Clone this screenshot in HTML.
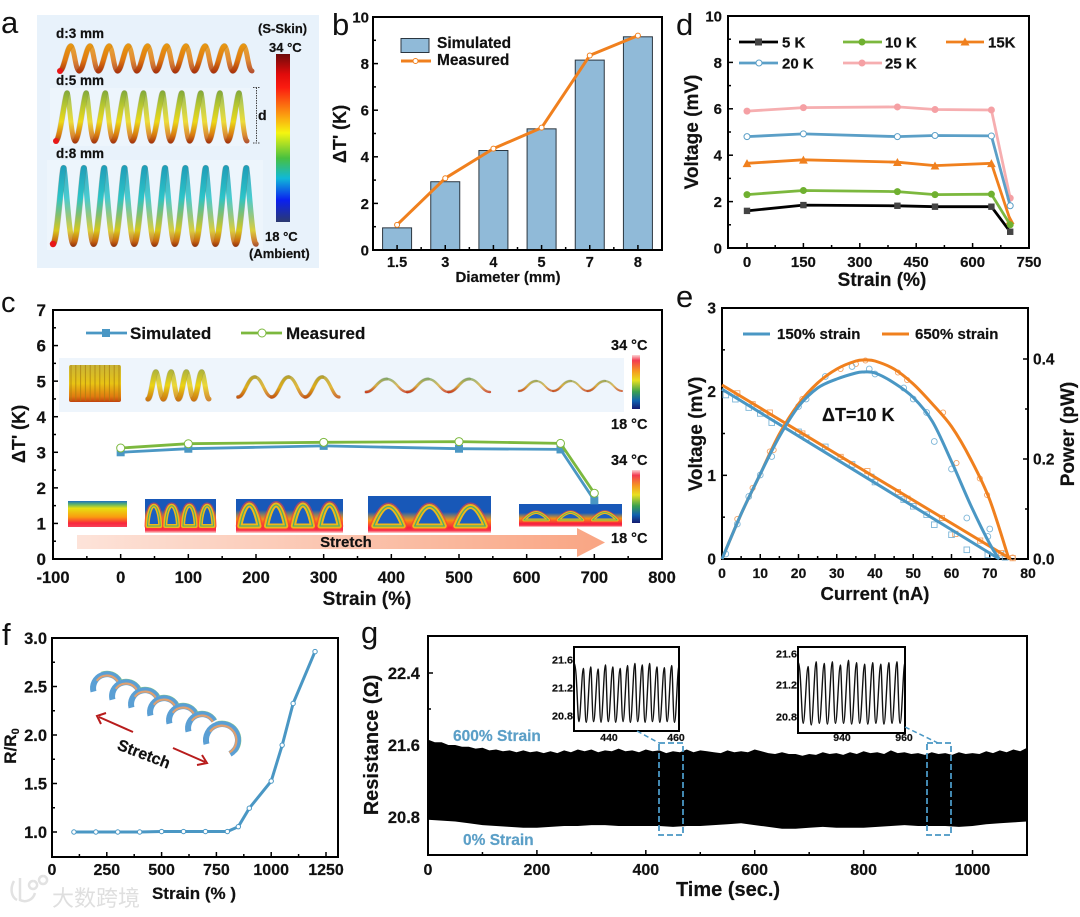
<!DOCTYPE html>
<html lang="en">
<head>
<meta charset="utf-8">
<title>Thermoelectric spring fibre figure</title>
<style>
html,body{margin:0;padding:0;background:#fff;}
svg{display:block;font-family:"Liberation Sans","Noto Sans CJK SC",sans-serif;font-weight:bold;fill:#111;filter:blur(.3px);}
svg text{stroke:#111;stroke-width:.2;}
.letter{font-weight:normal;font-size:31px;fill:#111;stroke-width:0;}
svg text.blue{fill:#5b9fc7;stroke:#5b9fc7;}
svg text.mark{fill:#dfdfdf;stroke:none;font-weight:normal;font-family:"Noto Sans CJK SC","WenQuanYi Zen Hei",sans-serif;}
</style>
</head>
<body>
<svg xmlns="http://www.w3.org/2000/svg" width="1080" height="917" viewBox="0 0 1080 917">
<defs>
  <linearGradient id="cbar" x1="0" y1="0" x2="0" y2="1">
    <stop offset="0" stop-color="#6e0b0b"/><stop offset=".12" stop-color="#e00b0b"/><stop offset=".2" stop-color="#fb1c10"/><stop offset=".36" stop-color="#fb9a10"/><stop offset=".47" stop-color="#f5f510"/><stop offset=".62" stop-color="#48c040"/><stop offset=".74" stop-color="#10b8d8"/><stop offset=".87" stop-color="#0a20f0"/><stop offset="1" stop-color="#2c3a70"/>
  </linearGradient>
  <linearGradient id="cbar2" x1="0" y1="0" x2="0" y2="1">
    <stop offset="0" stop-color="#fbd5d5"/><stop offset=".1" stop-color="#f33a50"/><stop offset=".3" stop-color="#f59a20"/><stop offset=".47" stop-color="#e8e020"/><stop offset=".68" stop-color="#3aa050"/><stop offset=".85" stop-color="#1060b0"/><stop offset="1" stop-color="#141a70"/>
  </linearGradient>
  <linearGradient id="coil3" gradientUnits="userSpaceOnUse" x1="0" y1="43" x2="0" y2="73">
    <stop offset="0" stop-color="#e89a10"/><stop offset=".55" stop-color="#e07a10"/><stop offset="1" stop-color="#a8300c"/>
  </linearGradient>
  <linearGradient id="coil5" gradientUnits="userSpaceOnUse" x1="0" y1="90" x2="0" y2="143">
    <stop offset="0" stop-color="#7fa83a"/><stop offset=".3" stop-color="#b8c830"/><stop offset=".6" stop-color="#ecd818"/><stop offset=".85" stop-color="#d87a10"/><stop offset="1" stop-color="#a3330d"/>
  </linearGradient>
  <linearGradient id="coil8" gradientUnits="userSpaceOnUse" x1="0" y1="165" x2="0" y2="247">
    <stop offset="0" stop-color="#1f9cb8"/><stop offset=".4" stop-color="#2cc4c8"/><stop offset=".62" stop-color="#86bf6a"/><stop offset=".8" stop-color="#d8c81c"/><stop offset=".93" stop-color="#c8680f"/><stop offset="1" stop-color="#8e2c0e"/>
  </linearGradient>
  <linearGradient id="coilC" x1="0" y1="0" x2="0" y2="1">
    <stop offset="0" stop-color="#c9b438"/><stop offset=".5" stop-color="#e8c414"/><stop offset=".85" stop-color="#e07a10"/><stop offset="1" stop-color="#c0420e"/>
  </linearGradient>
  <linearGradient id="coilC2" gradientUnits="userSpaceOnUse" x1="0" y1="369" x2="0" y2="402">
    <stop offset="0" stop-color="#a8b040"/><stop offset=".5" stop-color="#ecd414"/><stop offset="1" stop-color="#c86a10"/>
  </linearGradient>
  <linearGradient id="coilW" gradientUnits="userSpaceOnUse" x1="0" y1="375" x2="0" y2="399">
    <stop offset="0" stop-color="#b0a030"/><stop offset=".5" stop-color="#dfae18"/><stop offset="1" stop-color="#c24a10"/>
  </linearGradient>
  <linearGradient id="coilT" gradientUnits="userSpaceOnUse" x1="0" y1="378" x2="0" y2="393">
    <stop offset="0" stop-color="#7fa86a"/><stop offset=".5" stop-color="#d8b040"/><stop offset="1" stop-color="#c8341c"/>
  </linearGradient>
  <linearGradient id="arrowFade" x1="0" y1="0" x2="1" y2="0">
    <stop offset="0" stop-color="#fde3d9"/><stop offset="1" stop-color="#f9a583"/>
  </linearGradient>
  <linearGradient id="thermalFlat" x1="0" y1="0" x2="0" y2="1">
    <stop offset="0" stop-color="#1f6fc0"/><stop offset=".12" stop-color="#58b070"/><stop offset=".28" stop-color="#e8e010"/><stop offset=".62" stop-color="#fa9a10"/><stop offset=".85" stop-color="#f8263c"/><stop offset="1" stop-color="#f64058"/>
  </linearGradient>
  <linearGradient id="thermalBase" x1="0" y1="0" x2="0" y2="1">
    <stop offset="0" stop-color="#f8b010" stop-opacity="0"/><stop offset=".4" stop-color="#f89010"/><stop offset=".75" stop-color="#f8203c"/><stop offset=".88" stop-color="#f8304a"/><stop offset="1" stop-color="#fcd8d0"/>
  </linearGradient>
</defs>
<rect width="1080" height="917" fill="#ffffff"/>

<g>
  <text class="letter" x="1" y="33">a</text>
  <rect x="37" y="15" width="282" height="253" fill="#e8f2fb"/>
  <rect x="50" y="88" width="200" height="58" fill="#edf5fc"/>
  <rect x="47" y="160" width="216" height="90" fill="#edf5fc"/>
  <g id="coilsA"></g>
  <text x="56" y="38" font-size="13.500">d:3 mm</text>
  <text x="56" y="85" font-size="13.500">d:5 mm</text>
  <text x="56" y="158" font-size="13.500">d:8 mm</text>
  <text x="258" y="33" font-size="13">(S-Skin)</text>
  <text x="269" y="52" font-size="13">34 °C</text>
  <rect x="276" y="54" width="14" height="168" fill="url(#cbar)"/>
  <text x="265" y="241" font-size="13">18 °C</text>
  <text x="249" y="258" font-size="13">(Ambient)</text>
  <path d="M253 87.500H260M256.500 87.500V143M253 143H260" stroke="#444" stroke-width="1" stroke-dasharray="1.500 1" fill="none"/>
  <text x="258" y="120" font-size="14">d</text>
</g>

<g>
  <text class="letter" x="332" y="35">b</text>
  <g id="chartB"></g>
  <text transform="translate(346,134) rotate(-90)" text-anchor="middle" font-size="18">ΔT' (K)</text>
  <text x="508" y="282" text-anchor="middle" font-size="15">Diameter (mm)</text>
  <g>
    <rect x="401" y="38.500" width="28" height="14" fill="#90bad8" stroke="#2b3640" stroke-width="1"/>
    <text x="437" y="48" font-size="15.500">Simulated</text>
    <line x1="401" y1="61" x2="431" y2="61" stroke="#f0801e" stroke-width="3"/>
    <circle cx="415.500" cy="61" r="2.500" fill="#fff" stroke="#f0801e"/>
    <text x="437" y="65" font-size="15.500">Measured</text>
  </g>
</g>

<g>
  <text class="letter" x="1" y="312" style="font-size:29px">c</text>
  <rect x="59" y="358" width="565" height="54" fill="#eef5fc"/>
  <g id="coilsC"></g>
  <g id="thermalC"></g>
  <path d="M77 535H577V528L605 542.500L577 557V549H77Z" fill="url(#arrowFade)"/>
  <text x="346" y="547" text-anchor="middle" font-size="15">Stretch</text>
  <g id="chartC"></g>
  <text transform="translate(25,434) rotate(-90)" text-anchor="middle" font-size="18">ΔT' (K)</text>
  <text x="367" y="605" text-anchor="middle" font-size="19">Strain (%)</text>
  <g>
    <line x1="86" y1="333" x2="127" y2="333" stroke="#4a97c4" stroke-width="2.800"/>
    <rect x="102" y="329" width="8" height="8" fill="#4a97c4"/>
    <text x="130" y="339" font-size="17">Simulated</text>
    <line x1="241" y1="333" x2="282" y2="333" stroke="#7cb83e" stroke-width="2.800"/>
    <circle cx="262" cy="333" r="4" fill="#fff" stroke="#7cb83e"/>
    <text x="286" y="339" font-size="17">Measured</text>
  </g>
  <text x="611" y="350" font-size="14.500">34 °C</text>
  <rect x="632" y="355" width="8" height="54" fill="url(#cbar2)"/>
  <text x="611" y="429" font-size="14.500">18 °C</text>
  <text x="611" y="465" font-size="14.500">34 °C</text>
  <rect x="632" y="470" width="8" height="53" fill="url(#cbar2)"/>
  <text x="611" y="543" font-size="14.500">18 °C</text>
</g>

<g>
  <text class="letter" x="676" y="35">d</text>
  <g id="chartD"></g>
  <text transform="translate(698,132) rotate(-90)" text-anchor="middle" font-size="19">Voltage (mV)</text>
  <text x="882" y="286" text-anchor="middle" font-size="19">Strain (%)</text>
  <g>
    <line x1="739" y1="42" x2="778" y2="42" stroke="#000" stroke-width="2.800"/>
    <rect x="755" y="38.500" width="7" height="7" fill="#444"/>
    <text x="782" y="47.500" font-size="15">5 K</text>
    <line x1="843" y1="42" x2="882" y2="42" stroke="#7cb83e" stroke-width="2.800"/>
    <circle cx="862" cy="42" r="3.500" fill="#6fb030"/>
    <text x="885" y="47.500" font-size="15">10 K</text>
    <line x1="946" y1="42" x2="984" y2="42" stroke="#f0801e" stroke-width="2.800"/>
    <path d="M965 37.500L969.500 45.500H960.500Z" fill="#f0801e"/>
    <text x="988" y="47.500" font-size="15">15K</text>
    <line x1="739" y1="63" x2="778" y2="63" stroke="#5b9fc7" stroke-width="2.800"/>
    <circle cx="759" cy="63" r="3" fill="#fff" stroke="#5b9fc7"/>
    <text x="782" y="68.500" font-size="15">20 K</text>
    <line x1="843" y1="63" x2="882" y2="63" stroke="#f6aeb0" stroke-width="2.800"/>
    <circle cx="862" cy="63" r="3.500" fill="#f5a0a4"/>
    <text x="885" y="68.500" font-size="15">25 K</text>
  </g>
</g>

<g>
  <text class="letter" x="676" y="307">e</text>
  <g id="chartE"></g>
  <text transform="translate(702,434) rotate(-90)" text-anchor="middle" font-size="19">Voltage (mV)</text>
  <text transform="translate(1074,434) rotate(-90)" text-anchor="middle" font-size="19">Power (pW)</text>
  <text x="875" y="600" text-anchor="middle" font-size="18.500">Current (nA)</text>
  <text x="822" y="421" font-size="18">ΔT=10 K</text>
  <g>
    <line x1="743" y1="334" x2="770" y2="334" stroke="#4a97c4" stroke-width="3"/>
    <text x="777" y="339" font-size="15">150% strain</text>
    <line x1="882" y1="334" x2="909" y2="334" stroke="#f0801e" stroke-width="3"/>
    <text x="915" y="339" font-size="15">650% strain</text>
  </g>
</g>

<g>
  <text class="letter" x="2" y="645">f</text>
  <g id="chartF"></g>
  <g id="coilF"></g>
  <path d="M133 732L99 717M106 713L97 716L101 724" stroke="#b81c1c" stroke-width="2" fill="none"/>
  <path d="M173 748L205 762M197 765L207 763L202 755" stroke="#b81c1c" stroke-width="2" fill="none"/>
  <text transform="translate(142,759) rotate(21)" text-anchor="middle" font-size="16">Stretch</text>
  <text transform="translate(16,746) rotate(-90)" text-anchor="middle" font-size="17">R/R<tspan font-size="11" dy="3">0</tspan></text>
  <text x="194" y="899" text-anchor="middle" font-size="17">Strain (% )</text>
  <g>
    <path d="M14 881C10 888 11 897 17 900M20 878V900C26 903 33 900 35 893M33 881A4 4 0 1 0 33.100 881M43 876A4 4 0 1 0 43.100 876" stroke="#e2e2e2" stroke-width="2.500" fill="none"/>
    <text class="mark" x="52" y="906" font-size="22">大数跨境</text>
  </g>
</g>

<g>
  <text class="letter" x="361" y="643">g</text>
  <g id="chartG"></g>
  <path d="M637 731L659 743M905 727L938 743" stroke="#4a97c4" stroke-width="1.500" stroke-dasharray="5 3" fill="none"/>
  <rect x="659" y="743" width="24" height="92" fill="none" stroke="#4a97c4" stroke-width="1.800" stroke-dasharray="6 3"/>
  <rect x="927" y="743" width="24" height="92" fill="none" stroke="#4a97c4" stroke-width="1.800" stroke-dasharray="6 3"/>
  <text class="blue" x="453" y="741" font-size="15.500">600% Strain</text>
  <text class="blue" x="463" y="845" font-size="15.500">0% Strain</text>
  <text transform="translate(378,745) rotate(-90)" text-anchor="middle" font-size="20">Resistance (Ω)</text>
  <text x="728" y="896" text-anchor="middle" font-size="20">Time (sec.)</text>
</g>

<script>
// ---- Panel b data ----
const bCategories = ['1.5', '3', '4', '5', '7', '8'];
const bSimulated = [0.95, 2.93, 4.27, 5.2, 8.15, 9.15];
const bMeasured = [1.08, 3.08, 4.35, 5.25, 8.35, 9.2];
const bYTicks = [0, 2, 4, 6, 8, 10];
// ---- Panel c data ----
const cStrain = [0, 100, 300, 500, 650, 700];
const cSimulated = [3.0, 3.1, 3.18, 3.1, 3.08, 1.65];
const cMeasured = [3.12, 3.24, 3.28, 3.3, 3.25, 1.85];
const cXTicks = [-100, 0, 100, 200, 300, 400, 500, 600, 700, 800];
const cYTicks = [0, 1, 2, 3, 4, 5, 6, 7];
// ---- Panel d data ----
const dStrain = [0, 150, 400, 500, 650, 700];
const d5K = [1.6, 1.85, 1.82, 1.78, 1.78, 0.7];
const d10K = [2.3, 2.48, 2.43, 2.3, 2.32, 1.0];
const d15K = [3.65, 3.8, 3.7, 3.55, 3.65, 1.2];
const d20K = [4.8, 4.92, 4.8, 4.85, 4.83, 1.82];
const d25K = [5.9, 6.05, 6.08, 5.97, 5.95, 2.15];
const dXTicks = [0, 150, 300, 450, 600, 750];
const dYTicks = [0, 2, 4, 6, 8, 10];
// ---- Panel e data ----
const eVoltFitCurrentBlue = [0, 72.5];
const eVoltFitBlue = [2.03, 0];
const eVoltFitCurrentOrange = [0, 75.5];
const eVoltFitOrange = [2.08, 0];
const ePowerFitCurrentBlue = [0, 5, 10, 15, 20, 25, 30, 35, 37, 40, 45, 50, 55, 60, 65, 70, 72.5];
const ePowerFitBlue = [0, 0.09, 0.17, 0.245, 0.305, 0.342, 0.36, 0.372, 0.374, 0.372, 0.352, 0.323, 0.275, 0.195, 0.108, 0.03, 0];
const ePowerFitCurrentOrange = [0, 5, 10, 15, 20, 25, 30, 35, 37.5, 40, 45, 50, 55, 60, 65, 70, 75];
const ePowerFitOrange = [0, 0.09, 0.17, 0.25, 0.31, 0.352, 0.38, 0.396, 0.398, 0.396, 0.38, 0.35, 0.31, 0.265, 0.2, 0.118, 0];
const ePowerPtCurrentBlue = [1, 4, 7, 10, 13, 20, 22, 27, 34, 38.5, 40, 47.5, 50, 53.5, 55.5, 60, 64, 69.5, 70, 74];
const ePowerPtBlue = [0.01, 0.07, 0.125, 0.168, 0.205, 0.305, 0.32, 0.365, 0.385, 0.38, 0.37, 0.342, 0.32, 0.293, 0.235, 0.18, 0.082, 0.045, 0.06, 0.01];
const ePowerPtCurrentOrange = [4, 8, 12.5, 13.5, 21, 31, 35, 37.5, 46, 48.4, 57.8, 61.3, 67.4, 69.3, 76];
const ePowerPtOrange = [0.08, 0.142, 0.215, 0.218, 0.32, 0.38, 0.39, 0.397, 0.373, 0.358, 0.293, 0.192, 0.161, 0.128, 0.003];
const eVoltPtCurrentBlue = [1, 3.5, 7, 10, 13, 20, 22, 27, 34, 39, 40, 47.5, 50, 53.5, 55.5, 60, 64, 69.5, 74];
const eVoltPtBlue = [1.96, 1.91, 1.81, 1.74, 1.63, 1.52, 1.45, 1.34, 1.13, 0.98, 0.92, 0.71, 0.63, 0.53, 0.41, 0.29, 0.11, 0.05, 0.02];
const eVoltPtCurrentOrange = [4, 8, 12.5, 21, 31, 38, 46, 48.5, 57.5, 61, 67.5, 73, 76];
const eVoltPtOrange = [1.98, 1.85, 1.75, 1.5, 1.22, 1.05, 0.8, 0.72, 0.49, 0.3, 0.22, 0.07, 0.01];
const eXTicks = [0, 10, 20, 30, 40, 50, 60, 70, 80];
const eYTicks = [0, 1, 2, 3];
const eRightTicks = ['0.0', '0.2', '0.4'];
// ---- Panel f data ----
const fStrain = [100, 200, 300, 400, 500, 600, 700, 800, 850, 900, 1000, 1050, 1100, 1200];
const fRatio = [1, 1, 1, 1, 1.005, 1.005, 1.005, 1.005, 1.055, 1.245, 1.525, 1.895, 2.325, 2.86];
const fXTicks = [0, 250, 500, 750, 1000, 1250];
const fYTicks = ['1.0', '1.5', '2.0', '2.5', '3.0'];
// ---- Panel g data ----
const gUpperStep = 12.5;
const gLowerStep = 25;
const gUpper = [21.66, 21.63, 21.63, 21.6, 21.6, 21.58, 21.58, 21.56, 21.57, 21.54, 21.55, 21.53, 21.54, 21.52, 21.54, 21.52, 21.53, 21.51, 21.53, 21.51, 21.54, 21.52, 21.55, 21.53, 21.55, 21.52, 21.54, 21.53, 21.56, 21.53, 21.54, 21.52, 21.55, 21.53, 21.54, 21.51, 21.53, 21.52, 21.55, 21.52, 21.54, 21.53, 21.52, 21.51, 21.54, 21.52, 21.53, 21.52, 21.55, 21.53, 21.51, 21.5, 21.52, 21.5, 21.5, 21.48, 21.5, 21.49, 21.52, 21.5, 21.51, 21.49, 21.52, 21.5, 21.53, 21.51, 21.52, 21.5, 21.54, 21.51, 21.52, 21.5, 21.51, 21.49, 21.52, 21.5, 21.51, 21.49, 21.52, 21.5, 21.51, 21.5, 21.53, 21.51, 21.54, 21.52, 21.55, 21.53, 21.57];
const gLower = [20.77, 20.76, 20.75, 20.73, 20.71, 20.7, 20.69, 20.68, 20.68, 20.69, 20.7, 20.7, 20.71, 20.71, 20.7, 20.7, 20.7, 20.7, 20.69, 20.7, 20.7, 20.71, 20.72, 20.73, 20.71, 20.69, 20.67, 20.67, 20.68, 20.69, 20.68, 20.68, 20.68, 20.69, 20.7, 20.71, 20.7, 20.7, 20.7, 20.69, 20.7, 20.72, 20.73, 20.74, 20.75];
const gXTicks = [0, 200, 400, 600, 800, 1000];
const gYTicks = ['20.8', '21.6', '22.4'];
const gInset1Peaks = [21.56, 21.48, 21.5, 21.47, 21.53, 21.5, 21.48, 21.52, 21.55, 21.53, 21.55, 21.5, 21.49, 21.52];
const gInset1Troughs = [20.72, 20.71, 20.72, 20.71, 20.72, 20.71, 20.72, 20.71, 20.72, 20.71, 20.72, 20.71, 20.72, 20.71];
const gInset2Peaks = [21.5, 21.44, 21.5, 21.48, 21.5, 21.46, 21.52, 21.49, 21.47, 21.49, 21.47, 21.49, 21.5];
const gInset2Troughs = [20.72, 20.7, 20.72, 20.71, 20.72, 20.72, 20.71, 20.72, 20.71, 20.72, 20.71, 20.72, 20.72];
const gInset1YTicks = ['20.8', '21.2', '21.6'];
const gInset2YTicks = ['20.8', '21.2', '21.6'];
const gInset1XTicks = [440, 460];
const gInset2XTicks = [940, 960];

const NS = 'http://www.w3.org/2000/svg';
function make(tag, attrs, name, parent) {
  const el = document.createElementNS(NS, tag);
  for (const k in attrs) el.setAttribute(k, attrs[k]);
  
  
  parent.appendChild(el);
  return el;
}
function label(str, x, y, size, anchor, name, parent) {
  const el = make('text', {x: x, y: y, 'font-size': size, 'text-anchor': anchor}, name, parent);
  el.textContent = str;
  return el;
}
function linear(d0, d1, r0, r1) { return v => r0 + (v - d0) * (r1 - r0) / (d1 - d0); }
function toPath(xs, ys, sx, sy) {
  return xs.map((v, i) => (i ? 'L' : 'M') + sx(v).toFixed(1) + ' ' + sy(ys[i]).toFixed(1)).join('');
}
function toSmooth(xs, ys, sx, sy) {
  const p = xs.map((v, i) => [sx(v), sy(ys[i])]);
  let d = 'M' + p[0][0].toFixed(1) + ' ' + p[0][1].toFixed(1);
  for (let i = 0; i < p.length - 1; i++) {
    const a = p[Math.max(0, i - 1)], b = p[i], c = p[i + 1], e = p[Math.min(p.length - 1, i + 2)];
    d += 'C' + (b[0] + (c[0] - a[0]) / 6).toFixed(1) + ' ' + (b[1] + (c[1] - a[1]) / 6).toFixed(1) + ' ' +
      (c[0] - (e[0] - b[0]) / 6).toFixed(1) + ' ' + (c[1] - (e[1] - b[1]) / 6).toFixed(1) + ' ' + c[0].toFixed(1) + ' ' + c[1].toFixed(1);
  }
  return d;
}
function frame(box, name, parent) {
  make('rect', {x: box[0], y: box[1], width: box[2] - box[0], height: box[3] - box[1], fill: 'none', stroke: '#000', 'stroke-width': 2}, name, parent);
}
function tick(x1, y1, x2, y2, name, parent) {
  make('line', {x1: x1, y1: y1, x2: x2, y2: y2, stroke: '#000', 'stroke-width': 1.5}, name, parent);
}
function xAxis(box, ticks, sx, labelY, size, parent, labels) {
  ticks.forEach((t, i) => {
    tick(sx(t), box[3], sx(t), box[3] - 5, 'x-tick', parent);
    label(labels ? labels[i] : String(t), sx(t), labelY, size, 'middle', 'x-tick-label', parent);
    if (i < ticks.length - 1) {
      const m = (sx(t) + sx(ticks[i + 1])) / 2;
      tick(m, box[3], m, box[3] - 3, 'x-minor-tick', parent);
    }
  });
}
function yAxis(box, ticks, sy, labelX, size, parent) {
  ticks.forEach((t, i) => {
    const v = Number(t);
    tick(box[0], sy(v), box[0] + 5, sy(v), 'y-tick', parent);
    label(String(t), labelX, sy(v) + size * 0.36, size, 'end', 'y-tick-label', parent);
    if (i < ticks.length - 1) {
      const m = (sy(v) + sy(Number(ticks[i + 1]))) / 2;
      tick(box[0], m, box[0] + 3, m, 'y-minor-tick', parent);
    }
  });
}
function markers(kind, xs, ys, sx, sy, style, name, parent) {
  xs.forEach((v, i) => {
    const cx = sx(v), cy = sy(ys[i]), r = style.r;
    if (kind === 'circle') make('circle', {cx: cx, cy: cy, r: r, fill: style.fill, stroke: style.stroke || 'none', 'stroke-width': style.sw || 1}, name, parent);
    if (kind === 'square') make('rect', {x: cx - r, y: cy - r, width: 2 * r, height: 2 * r, fill: style.fill, stroke: style.stroke || 'none', 'stroke-width': style.sw || 1}, name, parent);
    if (kind === 'triangle') make('path', {d: 'M' + cx + ' ' + (cy - r * 1.1) + 'L' + (cx + r * 1.15) + ' ' + (cy + r) + 'L' + (cx - r * 1.15) + ' ' + (cy + r) + 'Z', fill: style.fill}, name, parent);
  });
}

// ---- Chart b ----
(function () {
  const g = document.getElementById('chartB');
  const box = [373, 17, 662, 250];
  const sy = linear(0, 10, 250, 17);
  const band = (box[2] - box[0]) / bCategories.length;
  const sx = i => box[0] + band * (i + 0.5);
  bSimulated.forEach((v, i) => {
    make('rect', {x: sx(i) - 14.5, y: sy(v), width: 29, height: 250 - sy(v), fill: '#90bad8', stroke: '#2b3640', 'stroke-width': 1}, 'bar-' + bCategories[i], g);
  });
  const idx = bCategories.map((c, i) => i);
  make('path', {d: toPath(idx, bMeasured, sx, sy), fill: 'none', stroke: '#f0801e', 'stroke-width': 3, 'stroke-linejoin': 'round'}, 'measured-line', g);
  markers('circle', idx, bMeasured, sx, sy, {r: 2.5, fill: '#fff', stroke: '#f0801e'}, 'measured-point', g);
  frame(box, 'plot-frame-b', g);
  xAxis(box, idx, sx, 267, 14.5, g, bCategories);
  yAxis(box, bYTicks, sy, 369, 15, g);
})();

// ---- Chart c ----
(function () {
  const g = document.getElementById('chartC');
  const box = [53, 310, 662, 559];
  const sx = linear(-100, 800, 53, 662);
  const sy = linear(0, 7, 559, 310);
  frame(box, 'plot-frame-c', g);
  xAxis(box, cXTicks, sx, 583, 16.5, g);
  yAxis(box, cYTicks, sy, 46, 17, g);
  make('path', {d: toPath(cStrain, cSimulated, sx, sy), fill: 'none', stroke: '#4a97c4', 'stroke-width': 2.8}, 'simulated-line', g);
  markers('square', cStrain, cSimulated, sx, sy, {r: 4, fill: '#4a97c4'}, 'simulated-point', g);
  make('path', {d: toPath(cStrain, cMeasured, sx, sy), fill: 'none', stroke: '#7cb83e', 'stroke-width': 2.8}, 'measured-line', g);
  markers('circle', cStrain, cMeasured, sx, sy, {r: 4, fill: '#fff', stroke: '#7cb83e'}, 'measured-point', g);
})();

// ---- Chart d ----
(function () {
  const g = document.getElementById('chartD');
  const box = [728, 16, 1029, 248];
  const sx = linear(0, 750, 747, 1029);
  const sy = linear(0, 10, 248, 16);
  frame(box, 'plot-frame-d', g);
  xAxis(box, dXTicks, sx, 267, 15, g);
  yAxis(box, dYTicks, sy, 722, 15, g);
  const line = (ys, color, kind, style, name) => {
    make('path', {d: toPath(dStrain, ys, sx, sy), fill: 'none', stroke: color, 'stroke-width': 2.8}, name + '-line', g);
    markers(kind, dStrain, ys, sx, sy, style, name + '-point', g);
  };
  line(d25K, '#f6aeb0', 'circle', {r: 3.5, fill: '#f5a0a4'}, 'series-25k');
  line(d20K, '#5b9fc7', 'circle', {r: 3, fill: '#fff', stroke: '#5b9fc7'}, 'series-20k');
  line(d15K, '#f0801e', 'triangle', {r: 3.8, fill: '#f0801e'}, 'series-15k');
  line(d5K, '#000', 'square', {r: 3.2, fill: '#444'}, 'series-5k');
  line(d10K, '#7cb83e', 'circle', {r: 3.5, fill: '#6fb030'}, 'series-10k');
})();

// ---- Chart e ----
(function () {
  const g = document.getElementById('chartE');
  const box = [722, 308, 1028, 559];
  const sx = linear(0, 80, 722, 1028);
  const sy = linear(0, 3, 559, 308);
  const sp = linear(0, 0.5, 559, 309);
  frame(box, 'plot-frame-e', g);
  xAxis(box, eXTicks, sx, 578, 14, g);
  yAxis(box, eYTicks, sy, 716, 15.5, g);
  eRightTicks.forEach((t, i) => {
    const v = Number(t);
    tick(box[2], sp(v), box[2] - 5, sp(v), 'right-tick', g);
    label(t, 1033, sp(v) + 5.5, 15.5, 'start', 'right-tick-label', g);
    if (i < eRightTicks.length - 1) {
      const m = (sp(v) + sp(Number(eRightTicks[i + 1]))) / 2;
      tick(box[2], m, box[2] - 3, m, 'right-minor-tick', g);
    }
  });
  markers('square', eVoltPtCurrentOrange, eVoltPtOrange, sx, sy, {r: 2.6, fill: 'none', stroke: '#f3a568', sw: 0.9}, 'voltage-point-650', g);
  markers('circle', ePowerPtCurrentOrange, ePowerPtOrange, sx, sp, {r: 2.6, fill: 'none', stroke: '#f3a568', sw: 0.9}, 'power-point-650', g);
  markers('square', eVoltPtCurrentBlue, eVoltPtBlue, sx, sy, {r: 2.8, fill: 'none', stroke: '#7db6d8', sw: 0.9}, 'voltage-point-150', g);
  markers('circle', ePowerPtCurrentBlue, ePowerPtBlue, sx, sp, {r: 2.9, fill: 'none', stroke: '#7db6d8', sw: 0.9}, 'power-point-150', g);
  make('path', {d: toPath(eVoltFitCurrentBlue, eVoltFitBlue, sx, sy), fill: 'none', stroke: '#4a97c4', 'stroke-width': 3}, 'voltage-fit-150', g);
  make('path', {d: toPath(eVoltFitCurrentOrange, eVoltFitOrange, sx, sy), fill: 'none', stroke: '#f0801e', 'stroke-width': 3}, 'voltage-fit-650', g);
  make('path', {d: toSmooth(ePowerFitCurrentOrange, ePowerFitOrange, sx, sp), fill: 'none', stroke: '#f0801e', 'stroke-width': 3}, 'power-fit-650', g);
  make('path', {d: toSmooth(ePowerFitCurrentBlue, ePowerFitBlue, sx, sp), fill: 'none', stroke: '#4a97c4', 'stroke-width': 3}, 'power-fit-150', g);
})();

// ---- Chart f ----
(function () {
  const g = document.getElementById('chartF');
  const box = [52, 638, 338, 857];
  const sx = linear(0, 1250, 52, 326);
  const sy = linear(1, 3, 832, 638);
  frame(box, 'plot-frame-f', g);
  xAxis(box, fXTicks, sx, 875, 16, g);
  yAxis(box, fYTicks, sy, 47, 16.5, g);
  make('path', {d: toPath(fStrain, fRatio, sx, sy), fill: 'none', stroke: '#4a97c4', 'stroke-width': 3}, 'resistance-line', g);
  markers('circle', fStrain, fRatio, sx, sy, {r: 2.2, fill: '#fff', stroke: '#4a97c4'}, 'resistance-point', g);
})();

// ---- Chart g ----
(function () {
  const g = document.getElementById('chartG');
  const box = [428, 636, 1027, 855];
  const sx = linear(0, 1100, 428, 1027);
  const sy = linear(20.8, 22.4, 817, 673);
  const upperTimes = gUpper.map((v, i) => i * gUpperStep);
  const lowerTimes = gLower.map((v, i) => i * gLowerStep);
  const top = toPath(upperTimes, gUpper, sx, sy);
  const bottom = toPath(lowerTimes.slice().reverse(), gLower.slice().reverse(), sx, sy).replace('M', 'L');
  make('path', {d: top + bottom + 'Z', fill: '#000'}, 'resistance-band', g);
  frame(box, 'plot-frame-g', g);
  xAxis(box, gXTicks, sx, 875, 16, g);
  yAxis(box, gYTicks, sy, 420, 16.5, g);

  const inset = (pos, peaks, troughs, yLabels, xLabels, yTickPx, xTickPx, name) => {
    const ig = make('g', {}, name, g);
    make('rect', {x: pos[0], y: pos[1], width: pos[2] - pos[0], height: pos[3] - pos[1], fill: '#fff'}, name + '-background', ig);
    const xs = linear(0, peaks.length, pos[0] + 2, pos[2]);
    const ys = linear(20.8, 21.6, yTickPx[0], yTickPx[2]);
    let d = 'M' + pos[0] + ' ' + ys(peaks[0]);
    peaks.forEach((p, i) => {
      const next = peaks[Math.min(i + 1, peaks.length - 1)];
      d += 'C' + (xs(i) + 1) + ' ' + ys(p) + ' ' + (xs(i + 0.2)) + ' ' + ys(troughs[i]) + ' ' + xs(i + 0.4) + ' ' + ys(troughs[i]);
      d += 'C' + xs(i + 0.6) + ' ' + ys(troughs[i]) + ' ' + (xs(i + 0.8)) + ' ' + ys(next) + ' ' + xs(i + 1) + ' ' + ys(next);
    });
    make('path', {d: d, fill: 'none', stroke: '#111', 'stroke-width': 1.4}, name + '-trace', ig);
    frame(pos, name + '-frame', ig);
    yLabels.forEach((t, i) => {
      const el = label(t, pos[0] - 1, yTickPx[i] + 3.5, 10.5, 'end', name + '-y-label', ig);
      el.setAttribute('textLength', '21');
      el.setAttribute('lengthAdjust', 'spacingAndGlyphs');
    });
    xLabels.forEach((t, i) => {
      label(String(t), xTickPx[i], 741, 10.5, 'middle', name + '-x-label', ig);
    });
  };
  inset([574, 647, 679, 731], gInset1Peaks, gInset1Troughs, gInset1YTicks, gInset1XTicks, [716, 688, 660], [609, 676], 'inset-440');
  inset([798, 647, 905, 733], gInset2Peaks, gInset2Troughs, gInset2YTicks, gInset2XTicks, [717, 685, 654], [842, 904], 'inset-940');
})();

// ---- Decorative coils ----
function coilPath(x0, x1, yTop, yBot, n, lean, tight) {
  const p = (x1 - x0) / n;
  let front = '', back = '';
  for (let i = 0; i < n; i++) {
    const a = x0 + i * p, b = a + p, c = a + p * lean;
    front += 'M' + a.toFixed(1) + ' ' + yBot + 'C' + (a + p * 0.2).toFixed(1) + ' ' + yBot + ' ' + (c - p * tight).toFixed(1) + ' ' + yTop + ' ' + c.toFixed(1) + ' ' + yTop;
    back += 'M' + c.toFixed(1) + ' ' + yTop + 'C' + (c + p * tight).toFixed(1) + ' ' + yTop + ' ' + (b - p * 0.2).toFixed(1) + ' ' + yBot + ' ' + b.toFixed(1) + ' ' + yBot;
  }
  return {front: front, back: back};
}
function drawCoil(parent, x0, x1, yTop, yBot, n, lean, w, grad, name, tight) {
  const c = coilPath(x0, x1, yTop, yBot, n, lean, tight === undefined ? 0.22 : tight);
  make('path', {d: c.back, fill: 'none', stroke: grad, 'stroke-width': w, 'stroke-linecap': 'round', opacity: 0.85}, name + '-back', parent);
  make('path', {d: c.front, fill: 'none', stroke: '#5a3a10', 'stroke-width': w + 0.8, 'stroke-linecap': 'round', opacity: 0.28}, name + '-edge', parent);
  make('path', {d: c.front, fill: 'none', stroke: grad, 'stroke-width': w, 'stroke-linecap': 'round'}, name + '-front', parent);
}
(function () {
  const g = document.getElementById('coilsA');
  drawCoil(g, 60, 252, 46, 71, 10, 0.56, 5, 'url(#coil3)', 'coil-3mm', 0.18);
  drawCoil(g, 56, 247, 93, 141, 10, 0.58, 5, 'url(#coil5)', 'coil-5mm', 0.1);
  drawCoil(g, 53, 256, 168, 244, 10, 0.52, 5.5, 'url(#coil8)', 'coil-8mm', 0.08);
  make('circle', {cx: 60, cy: 71, r: 3, fill: '#e81818'}, 'coil-3mm-end', g);
  make('circle', {cx: 56, cy: 141, r: 3, fill: '#e81818'}, 'coil-5mm-end', g);
  make('circle', {cx: 53, cy: 244, r: 3.2, fill: '#e81818'}, 'coil-8mm-end', g);

  const c = document.getElementById('coilsC');
  make('rect', {x: 69, y: 365, width: 52, height: 37, rx: 2, fill: 'url(#coilC)'}, 'coil-strain-0-body', c);
  for (let i = 0; i < 11; i++) {
    make('line', {x1: 71 + i * 4.8, y1: 365, x2: 71 + i * 4.8, y2: 401, stroke: '#a87c10', 'stroke-width': 1, opacity: 0.7}, 'coil-strain-0-turn', c);
  }
  drawCoil(c, 148, 209, 372, 399, 4, 0.52, 5, 'url(#coilC2)', 'coil-strain-100', 0.16);
  drawCoil(c, 238, 339, 377, 397, 3, 0.5, 3.2, 'url(#coilW)', 'coil-strain-300');
  drawCoil(c, 366, 490, 379, 392, 3, 0.5, 2.4, 'url(#coilT)', 'coil-strain-500');
  drawCoil(c, 519, 622, 381, 391, 3, 0.5, 2, 'url(#coilT)', 'coil-strain-650');

  const t = document.getElementById('thermalC');
  make('rect', {x: 68, y: 501, width: 59, height: 26, fill: 'url(#thermalFlat)'}, 'thermal-strain-0', t);
  const thermal = (x, y, w, h, baseTop, arches, top, legW, k, name) => {
    const tg = make('g', {}, name, t);
    make('rect', {x: x, y: y, width: w, height: h, fill: '#1858b8'}, name + '-background', tg);
    make('rect', {x: x, y: baseTop, width: w, height: y + h - baseTop, fill: 'url(#thermalBase)'}, name + '-base', tg);
    const p = w / arches, bot = y + h - 7;
    for (let i = 0; i < arches; i++) {
      const a = x + i * p + p * 0.14, b = a + p * 0.72, s = p * legW;
      const d = 'M' + a + ' ' + bot + 'C' + (a + s) + ' ' + top + ' ' + (b - s) + ' ' + top + ' ' + b + ' ' + bot + 'Z';
      make('path', {d: d, fill: 'none', stroke: '#f8403a', 'stroke-width': 8 * k, 'stroke-linejoin': 'round', opacity: 0.6}, name + '-arch-glow', tg);
      make('path', {d: d, fill: '#1c5fc0', stroke: '#f0b818', 'stroke-width': 5 * k, 'stroke-linejoin': 'round'}, name + '-arch', tg);
      make('path', {d: d, fill: 'none', stroke: '#4fae68', 'stroke-width': 1.3 * k, 'stroke-linejoin': 'round'}, name + '-arch-core', tg);
    }
  };
  thermal(145, 499, 71, 34, 510, 4, 499, 0.08, 0.8, 'thermal-strain-100');
  thermal(236, 499, 107, 34, 510, 4, 498, 0.22, 1, 'thermal-strain-300');
  thermal(368, 496, 123, 37, 512, 3, 500, 0.26, 1, 'thermal-strain-500');
  thermal(519, 504, 103, 23, 513, 3, 510, 0.28, 0.6, 'thermal-strain-650');

  const f = document.getElementById('coilF');
  const centres = [[107, 688], [126, 696], [145, 704], [164, 712], [183, 720], [202, 728], [222, 740]];
  const polar = (m, r, deg) => (m[0] + r * Math.cos(deg * Math.PI / 180)).toFixed(1) + ' ' + (m[1] + r * Math.sin(deg * Math.PI / 180)).toFixed(1);
  const arc = (m, r, a0, a1, big) => 'M' + polar(m, r, a0) + 'A' + r + ' ' + r + ' 0 ' + big + ' 1 ' + polar(m, r, a1);
  centres.forEach((m, i) => {
    const last = i === centres.length - 1;
    const r = last ? 16 : 14;
    const end = last ? 420 : 330;
    const big = end - 165 > 180 ? 1 : 0;
    make('path', {d: arc(m, r + 2.5, 250, Math.min(end, 400), 0), fill: 'none', stroke: '#8ccf86', 'stroke-width': 1.6}, 'spring-turn-green', f);
    make('path', {d: arc(m, r, 165, end, big), fill: 'none', stroke: '#5a9fd4', 'stroke-width': 6}, 'spring-turn-outer', f);
    make('path', {d: arc(m, r - 1.5, 215, end, big && last ? 1 : 0), fill: 'none', stroke: '#e0a070', 'stroke-width': 2.2}, 'spring-turn-inner', f);
  });
})();
</script>
</svg>
</body>
</html>
